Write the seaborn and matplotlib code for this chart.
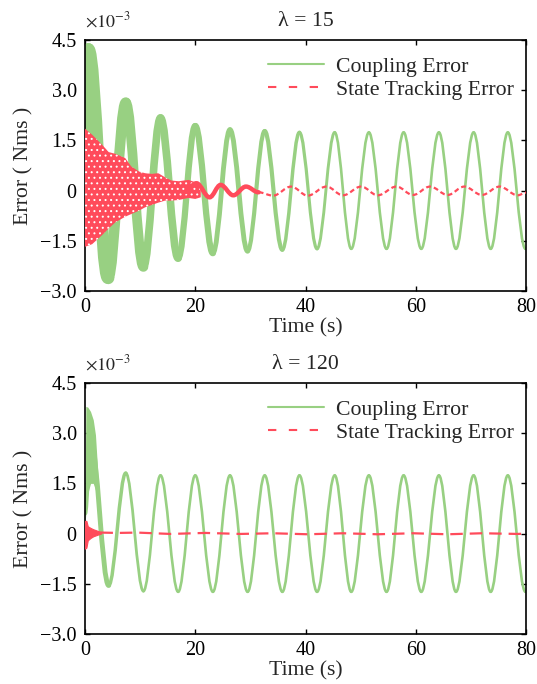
import numpy as np
import pandas as pd
import matplotlib
matplotlib.use('Agg')
import matplotlib.pyplot as plt
import seaborn as sns
from matplotlib.path import Path
from matplotlib.patches import PathPatch
from matplotlib.lines import Line2D

# ---------------- data ----------------
y_ticks = [-3.0, -1.5, 0.0, 1.5, 3.0, 4.5]
y_tick_labels = ['\u22123.0', '\u22121.5', '0', '1.5', '3.0', '4.5']
x_ticks = [0, 20, 40, 60, 80]
titles = ['\u03bb = 15', '\u03bb = 120']
legend_labels = ['Coupling Error', 'State Tracking Error']

# lambda = 15 : coupling error extrema (time, value)
g15_t = [0.0, 0.6, 4.2, 7.4, 10.6, 13.7, 16.9, 20.0, 23.2, 26.3, 29.5, 32.6, 35.8,
         38.9, 42.1, 45.3, 48.3, 51.5, 54.7, 57.8, 61.0, 64.2, 67.3, 70.5, 73.6,
         76.7, 79.9, 80.0]
g15_v = [1.0, 4.22, -2.61, 2.63, -2.28, 2.17, -2.02, 1.93, -1.87, 1.82, -1.81, 1.78, -1.77,
         1.74, -1.74, 1.74, -1.74, 1.74, -1.74, 1.74, -1.74, 1.74, -1.74, 1.74, -1.74,
         1.74, -1.74, -1.74]
# lambda = 15 : state tracking error, chattering envelope
r15_band_t = [0.0, 1.3, 3.1, 4.3, 5.5, 7.3, 8.4, 9.8, 10.9, 12.1, 13.3, 14.5, 15.7,
              17.0, 18.8, 20.0, 21.0]
r15_band_hi = [1.85, 1.67, 1.37, 1.15, 1.1, 0.97, 0.72, 0.57, 0.52, 0.5, 0.52, 0.4, 0.3,
               0.28, 0.32, 0.25, 0.15]
r15_band_lo = [-1.68, -1.6, -1.33, -1.13, -0.95, -0.78, -0.7, -0.6, -0.5, -0.43, -0.36,
               -0.3, -0.3, -0.28, -0.22, -0.25, -0.2]
# lambda = 15 : state tracking error extrema after the chattering phase
r15_t = [18.0, 20.2, 22.6, 24.6, 26.9, 29.2, 31.5, 34.1, 37.4, 40.4, 43.8, 46.8, 50.1,
         53.1, 56.5, 59.5, 62.6, 65.8, 68.8, 72.0, 75.2, 78.5, 80.0]
r15_v = [-0.05, 0.22, -0.2, 0.17, -0.14, 0.12, -0.05, -0.15, 0.12, -0.15, 0.12, -0.14, 0.12,
         -0.14, 0.12, -0.13, 0.12, -0.13, 0.12, -0.13, 0.12, -0.14, -0.06]

# lambda = 120 : coupling error
g120_band_t = [0.0, 0.15, 0.5, 1.0, 1.5, 1.9, 2.2, 2.5, 2.8]
g120_band_hi = [0.6, 3.8, 3.78, 3.65, 3.4, 2.95, 2.15, 1.3, 0.9]
g120_band_lo = [0.3, 0.6, 1.2, 1.5, 1.5, 1.3, 1.1, 0.85, 0.5]
g120_t = [0.0, 1.0, 4.3, 7.4, 10.6, 13.7, 16.9, 20.0, 23.2, 26.3, 29.5, 32.6, 35.8,
          38.9, 42.1, 45.3, 48.3, 51.5, 54.7, 57.8, 61.0, 64.2, 67.3, 70.5, 73.6,
          76.7, 79.9, 80.0]
g120_v = [0.6, 2.8, -1.55, 1.81, -1.72, 1.74, -1.74, 1.74, -1.74, 1.74, -1.74, 1.74, -1.74,
          1.74, -1.74, 1.74, -1.74, 1.74, -1.74, 1.74, -1.74, 1.74, -1.74, 1.74, -1.74,
          1.74, -1.74, -1.74]
# lambda = 120 : state tracking error
r120_band_t = [0.0, 0.25, 0.5, 1.0, 1.5, 2.0, 2.5, 2.9]
r120_band_hi = [0.38, 0.38, 0.22, 0.17, 0.13, 0.1, 0.07, 0.05]
r120_band_lo = [-0.45, -0.42, -0.2, -0.13, -0.08, -0.05, -0.02, 0.0]
r120_t = [2.8, 6.0, 9.5, 15.5, 21.8, 28.2, 34.1, 40.4, 46.8, 53.1, 59.5, 65.8, 72.0, 78.5, 80.0]
r120_v = [0.03, 0.02, 0.03, -0.01, 0.02, -0.01, 0.01, -0.02, 0.01, -0.02, 0.01, -0.02, 0.01, -0.01, 0.0]

# ---------------- styles ----------------
GREEN = '#98d082'
RED = '#ff4b5b'
g15_widths = [9, 9, 7.5, 7, 5.5, 5.5, 4.5, 4.5, 3.5, 3.5, 3.0, 3.0, 2.5, 2.3, 2.1] + [1.9] * 12
g120_widths = [3.0, 3.5, 2.5, 2.0] + [1.9] * 23

sns.set_theme(style='ticks')
plt.rcParams['font.family'] = ['Liberation Serif', 'DejaVu Serif']
plt.rcParams['mathtext.fontset'] = 'stix'
plt.rcParams['lines.scale_dashes'] = False
plt.rcParams['hatch.linewidth'] = 0.7


def smooth_path(ts, vs, k=0.3642):
    verts = [(ts[0], vs[0])]
    codes = [Path.MOVETO]
    for i in range(len(ts) - 1):
        dt = ts[i + 1] - ts[i]
        verts += [(ts[i] + k * dt, vs[i]), (ts[i + 1] - k * dt, vs[i + 1]), (ts[i + 1], vs[i + 1])]
        codes += [Path.CURVE4] * 3
    return Path(verts, codes)


def draw_segments(ax, ts, vs, widths, color, z=2):
    for i in range(len(ts) - 1):
        p = smooth_path(ts[i:i + 2], vs[i:i + 2])
        ax.add_patch(PathPatch(p, fill=False, edgecolor=color, lw=widths[i],
                               capstyle='round', joinstyle='round', zorder=z))


fig = plt.figure(figsize=(5.37, 6.84), dpi=100)
ax1 = fig.add_axes([85 / 537, 1 - 291 / 684, 441 / 537, 251 / 684])
ax2 = fig.add_axes([85 / 537, 1 - 634 / 684, 441 / 537, 251 / 684])

# top panel
draw_segments(ax1, g15_t, g15_v, g15_widths, GREEN)
ax1.fill_between(r15_band_t, r15_band_lo, r15_band_hi, facecolor=RED, edgecolor='white',
                 hatch='...', linewidth=0, zorder=3)
ax1.add_patch(PathPatch(smooth_path(r15_t[:7], r15_v[:7]), fill=False, edgecolor=RED,
                        lw=3.2, zorder=3, capstyle='round'))
ax1.add_patch(PathPatch(smooth_path(r15_t[6:], r15_v[6:]), fill=False, edgecolor=RED,
                        lw=1.6, linestyle=(0, (3.5, 2.2)), zorder=3))

# bottom panel
ax2.fill_between(g120_band_t, g120_band_lo, g120_band_hi, color=GREEN, linewidth=0, zorder=2)
draw_segments(ax2, g120_t, g120_v, g120_widths, GREEN)
ax2.fill_between(r120_band_t, r120_band_lo, r120_band_hi, color=RED, linewidth=0.8, zorder=3)
df120 = pd.DataFrame({'t': r120_t, 'v': r120_v})
sns.lineplot(data=df120, x='t', y='v', ax=ax2, color=RED, lw=1.6,
             linestyle=(0, (9, 5)), zorder=3, legend=False)

handles = [Line2D([], [], color=GREEN, lw=1.5),
           Line2D([], [], color=RED, lw=1.5, linestyle=(0, (6, 9)))]

for ax, title in zip([ax1, ax2], titles):
    ax.set_xlim(0, 80)
    ax.set_ylim(-3.0, 4.5)
    ax.set_xticks(x_ticks)
    ax.set_xticklabels([str(v) for v in x_ticks])
    ax.set_yticks(y_ticks)
    ax.set_yticklabels(y_tick_labels)
    ax.tick_params(direction='in', length=3.5, width=1.0, top=True, right=True,
                   labelsize=14.5, colors='black', pad=5)
    ax.tick_params(axis='y', pad=6)
    for s in ax.spines.values():
        s.set_linewidth(1.2)
        s.set_color('black')
    ax.set_xlabel('Time (s)', fontsize=15.7, labelpad=1)
    ax.set_ylabel('Error ( Nms )', fontsize=15.7, labelpad=5)
    ax.set_title(title, fontsize=15.7, pad=10)
    ax.text(0.0, 1.035, r'$\times10^{-3}$', transform=ax.transAxes, fontsize=13,
            ha='left', va='bottom')
    ax.legend(handles, legend_labels, loc='center left', bbox_to_anchor=(0.415, 0.848),
              frameon=False, fontsize=15.7, handlelength=2.55, handletextpad=0.55,
              labelspacing=0.12, borderpad=0, borderaxespad=0)
    ax.grid(False)

fig.savefig('out.png', dpi=100)
